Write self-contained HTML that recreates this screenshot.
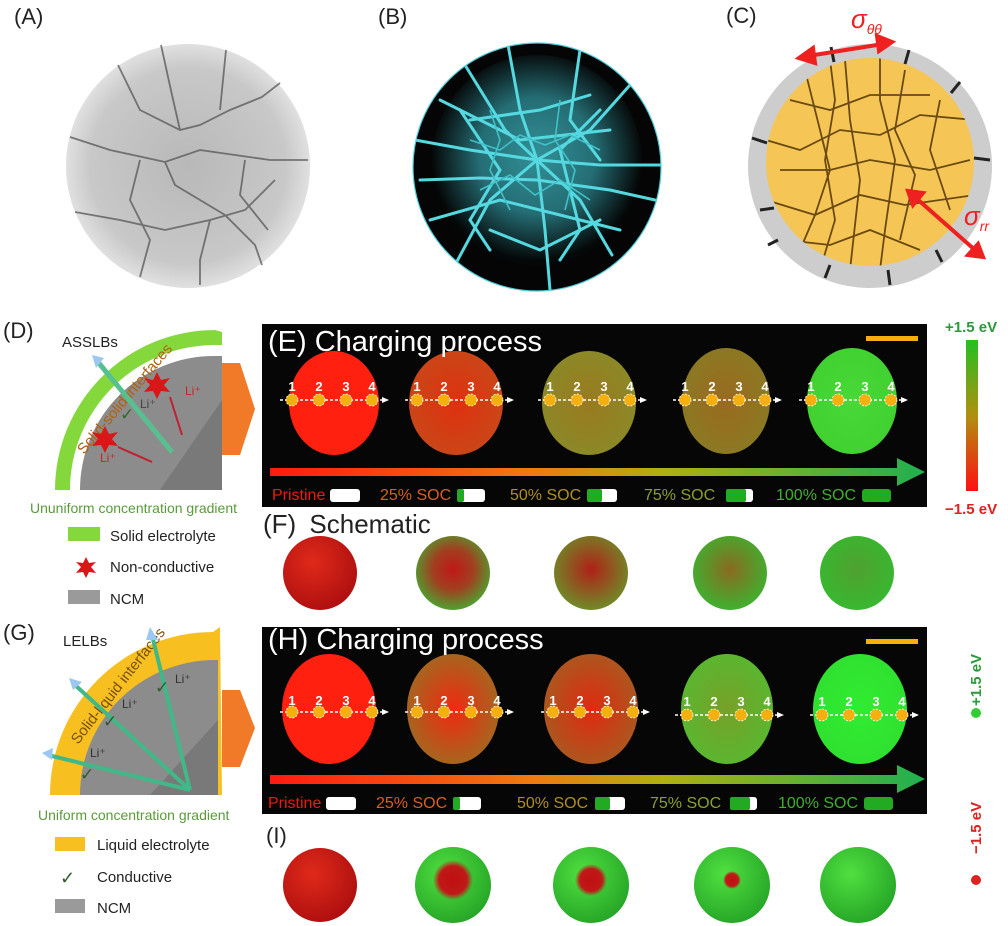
<!DOCTYPE html>
<html><head><meta charset="utf-8">
<style>
html,body{margin:0;padding:0;background:#fff;}
svg{display:block;font-family:"Liberation Sans",sans-serif;}
</style></head><body>
<svg width="1008" height="926" viewBox="0 0 1008 926" xmlns="http://www.w3.org/2000/svg">
<defs>
<radialGradient id="gA" cx="50%" cy="50%" r="50%"><stop offset="0" stop-color="#b8b8b8"/><stop offset="0.8" stop-color="#c8c8c8"/><stop offset="1" stop-color="#e0e0e0"/></radialGradient>
<radialGradient id="gB" cx="50%" cy="48%" r="50%"><stop offset="0" stop-color="#3aa8b0"/><stop offset="0.55" stop-color="#2a8088"/><stop offset="1" stop-color="#050808"/></radialGradient>
<linearGradient id="arr" x1="0" x2="1"><stop offset="0" stop-color="#ff1a10"/><stop offset="0.4" stop-color="#f07a10"/><stop offset="0.6" stop-color="#b0b010"/><stop offset="1" stop-color="#20b050"/></linearGradient>
<linearGradient id="cb" x1="0" y1="0" x2="0" y2="1"><stop offset="0" stop-color="#22c020"/><stop offset="0.5" stop-color="#b09010"/><stop offset="1" stop-color="#ff1010"/></linearGradient>
<radialGradient id="red" cx="40%" cy="35%" r="65%"><stop offset="0" stop-color="#e02a1a"/><stop offset="1" stop-color="#b01010"/></radialGradient>
<radialGradient id="grn" cx="40%" cy="35%" r="65%"><stop offset="0" stop-color="#50e040"/><stop offset="1" stop-color="#28a828"/></radialGradient>
<radialGradient id="mix1" cx="50%" cy="45%" r="55%"><stop offset="0" stop-color="#c01818"/><stop offset="0.5" stop-color="#a04020"/><stop offset="1" stop-color="#50a030"/></radialGradient>
<radialGradient id="mix2" cx="50%" cy="45%" r="55%"><stop offset="0" stop-color="#b02018"/><stop offset="1" stop-color="#708a28"/></radialGradient>
<radialGradient id="mix3" cx="50%" cy="45%" r="55%"><stop offset="0" stop-color="#8a6a20"/><stop offset="1" stop-color="#40b030"/></radialGradient>
<radialGradient id="mix4" cx="50%" cy="45%" r="55%"><stop offset="0" stop-color="#50a030"/><stop offset="1" stop-color="#38b830"/></radialGradient>
<radialGradient id="core" cx="50%" cy="50%" r="50%"><stop offset="0" stop-color="#c01010"/><stop offset="0.7" stop-color="#c01818"/><stop offset="1" stop-color="#c01818" stop-opacity="0"/></radialGradient>
<radialGradient id="b2" cx="50%" cy="50%" r="55%"><stop offset="0" stop-color="#e03010"/><stop offset="1" stop-color="#c84818"/></radialGradient>
<radialGradient id="b3" cx="50%" cy="50%" r="55%"><stop offset="0" stop-color="#9a7a20"/><stop offset="1" stop-color="#8a8a28"/></radialGradient>
<radialGradient id="b4" cx="50%" cy="50%" r="55%"><stop offset="0" stop-color="#9a6a20"/><stop offset="1" stop-color="#8a7a22"/></radialGradient>
<radialGradient id="b5" cx="50%" cy="50%" r="55%"><stop offset="0" stop-color="#48d838"/><stop offset="1" stop-color="#40d030"/></radialGradient>
<radialGradient id="h2" cx="50%" cy="50%" r="55%"><stop offset="0" stop-color="#f02a10"/><stop offset="1" stop-color="#a06a20"/></radialGradient>
<radialGradient id="h3" cx="50%" cy="50%" r="55%"><stop offset="0" stop-color="#e02a10"/><stop offset="1" stop-color="#a85a20"/></radialGradient>
<radialGradient id="h4" cx="50%" cy="50%" r="55%"><stop offset="0" stop-color="#78a028"/><stop offset="1" stop-color="#58b830"/></radialGradient>
<radialGradient id="h5" cx="50%" cy="50%" r="55%"><stop offset="0" stop-color="#30ec30"/><stop offset="1" stop-color="#30e030"/></radialGradient>
<clipPath id="cpB"><circle cx="537" cy="167" r="124"/></clipPath>
<clipPath id="cpC"><circle cx="870" cy="162" r="104"/></clipPath>
<g id="mk">
<path d="M-52 0 H50" stroke="#fff" stroke-width="1.5" stroke-dasharray="3,2"/>
<polygon points="50,-3 57,0 50,3" fill="#fff"/>
<g fill="#f5b010" stroke="#fff" stroke-width="0.8" stroke-dasharray="2,1.5">
<circle cx="-40" cy="0" r="6"/><circle cx="-13" cy="0" r="6"/><circle cx="14" cy="0" r="6"/><circle cx="40" cy="0" r="6"/></g>
</g>
</defs>

<!-- Top labels -->
<g font-size="22" fill="#222">
<text x="14" y="24">(A)</text><text x="378" y="24">(B)</text><text x="726" y="23">(C)</text>
</g>
<!-- A -->
<circle cx="188" cy="166" r="122" fill="url(#gA)"/>
<g stroke="#555" stroke-width="1.8" fill="none" opacity="0.75">
<path d="M118 65 L140 110 L180 130 L200 125 L230 110 L262 97 L280 83"/>
<path d="M161 45 L172 95 L180 130"/>
<path d="M226 50 L220 110"/>
<path d="M70 137 L110 150 L165 162 L200 150 L235 155 L270 160 L308 160"/>
<path d="M165 162 L175 185 L200 200 L225 215 L255 245 L262 265"/>
<path d="M75 212 L120 220 L165 230 L210 220 L245 210 L275 180"/>
<path d="M140 277 L150 240 L130 200 L140 160"/>
<path d="M200 285 L200 260 L210 220"/>
<path d="M245 160 L240 195 L268 230"/>
</g>
<!-- B -->
<circle cx="537" cy="167" r="124" fill="#050505"/>
<g clip-path="url(#cpB)">
<circle cx="537" cy="160" r="105" fill="url(#gB)" opacity="0.85"/>
<g stroke="#55d8e0" stroke-width="3" fill="none" stroke-linecap="round">
<path d="M465 65 L505 130 L537 160 L580 200 L612 255"/>
<path d="M508 45 L520 110 L537 160 L545 230 L550 290"/>
<path d="M630 85 L590 130 L537 160 L490 200 L455 265"/>
<path d="M415 140 L470 150 L537 160 L600 165 L660 165"/>
<path d="M420 180 L480 178 L537 180 L610 190 L655 200"/>
<path d="M580 50 L570 120 L600 160"/>
<path d="M460 110 L500 170 L470 220 L490 250"/>
<path d="M600 110 L560 150 L580 230 L560 260"/>
<path d="M430 220 L500 200 L560 215 L620 230"/>
<path d="M440 100 L520 140 L610 130"/>
<path d="M470 120 L540 110 L590 95"/>
<path d="M490 230 L540 250 L600 220"/>
</g>
<g stroke="#40c0c8" stroke-width="1.6" fill="none">
<path d="M470 140 L500 150 L520 135 L545 145 L570 135 L600 150"/>
<path d="M480 190 L510 175 L535 195 L560 180 L590 200"/>
<path d="M490 110 L500 140 L490 170 L510 210"/>
<path d="M560 100 L555 140 L575 170 L565 210"/>
</g>
</g>
<circle cx="537" cy="167" r="124" fill="none" stroke="#4ecfdc" stroke-width="1.2"/>
<!-- C -->
<circle cx="870" cy="166" r="122" fill="#cdcdcd"/>
<circle cx="870" cy="162" r="104" fill="#f5c556"/>
<g clip-path="url(#cpC)" stroke="#6b4a10" stroke-width="1.8" fill="none">
<path d="M766 140 L800 150 L840 130 L880 135 L920 115 L975 120"/><path d="M805 70 L820 130 L830 170 L815 215 L800 250"/><path d="M905 70 L895 130 L915 175 L900 240"/><path d="M766 200 L815 215 L860 195 L905 205 L975 195"/><path d="M845 60 L850 120 L860 180 L850 270"/>
<path d="M780 170 L830 170 L870 160 L930 170 L970 160"/><path d="M785 240 L830 245 L870 230 L920 250"/><path d="M830 60 L835 100 L825 160 L835 220 L820 270"/><path d="M880 55 L880 100 L895 160 L885 230 L880 270"/>
<path d="M790 100 L830 110 L870 95 L930 95"/><path d="M940 100 L930 150 L950 210"/>
</g>
<g stroke="#222" stroke-width="3"><path d="M752 138 L767 143"/><path d="M831 47 L834 62"/><path d="M909 50 L905 64"/><path d="M960 82 L951 93"/><path d="M990 160 L974 158"/><path d="M760 210 L774 208"/><path d="M825 278 L830 265"/><path d="M890 285 L888 270"/><path d="M942 262 L936 250"/><path d="M768 245 L778 240"/></g>
<g stroke="#ee2020" stroke-width="4" fill="#ee2020">
<path d="M808 56 L883 44"/><polygon points="799,58 813,48 815,63"/><polygon points="892,42 877,36 879,51"/>
<path d="M916 198 L975 250"/><polygon points="908,191 923,193 913,205"/><polygon points="983,257 968,255 978,244"/>
</g>
<text x="851" y="28" font-size="26" font-style="italic" fill="#ee2020">σ<tspan font-size="14" dy="6">θθ</tspan></text>
<text x="964" y="225" font-size="26" font-style="italic" fill="#ee2020">σ<tspan font-size="14" dy="6">rr</tspan></text>

<!-- D -->
<text x="3" y="338" font-size="22" fill="#222">(D)</text>
<path d="M55 490 A160 160 0 0 1 215 330 L222 332 L222 352 L222 490 Z" fill="#84d83c"/>
<path d="M70 490 A145 145 0 0 1 215 345 L222 345 L222 490 Z" fill="#fff"/>
<path d="M80 490 A134 134 0 0 1 215 356 L222 356 L222 490 Z" fill="#8c8c8c"/>
<path d="M160 490 L222 400 L222 490 Z" fill="#666" opacity="0.5"/>
<text x="62" y="347" font-size="15" fill="#222">ASSLBs</text>
<text x="0" y="0" font-size="15" fill="#b06010" transform="translate(84 455) rotate(-50)">Solid-solid interfaces</text>
<path d="M172 452 L98 362" stroke="#58c090" stroke-width="5"/><polygon points="92,355 104,358 96,368" fill="#9ac8f0"/>
<path d="M182 435 L170 397" stroke="#c02030" stroke-width="2"/><path d="M152 462 L118 447" stroke="#c02030" stroke-width="2"/>
<text x="140" y="408" font-size="12" fill="#444">Li⁺</text><text x="185" y="395" font-size="12" fill="#d02020">Li⁺</text><text x="100" y="462" font-size="12" fill="#d02020">Li⁺</text>
<text x="120" y="420" font-size="17" fill="#2e6a2e">✓</text>
<polygon points="157,372 161,380 170,378 164,385 170,392 161,391 157,399 153,391 144,392 150,385 144,378 153,380" fill="#d81818"/>
<polygon points="105,426 109,434 118,432 112,439 118,446 109,445 105,453 101,445 92,446 98,439 92,432 101,434" fill="#d81818"/>
<polygon points="222,363 240,363 255,409 240,455 222,455" fill="#f07a28"/>
<text x="30" y="513" font-size="14" fill="#5a9a3a">Ununiform concentration gradient</text>
<rect x="68" y="527" width="32" height="14" fill="#84d83c"/><text x="110" y="541" font-size="15" fill="#222">Solid electrolyte</text>
<polygon points="86,557 89,563 96,562 91,567 96,573 89,572 86,578 83,572 76,573 81,567 76,562 83,563" fill="#d81818"/><text x="110" y="572" font-size="15" fill="#222">Non-conductive</text>
<rect x="68" y="590" width="32" height="14" fill="#9a9a9a"/><text x="110" y="604" font-size="15" fill="#222">NCM</text>

<!-- E panel -->
<rect x="262" y="324" width="665" height="183" fill="#060606"/>
<ellipse cx="334" cy="403" rx="45" ry="52" fill="#ff2010"/>
<ellipse cx="456" cy="403" rx="47" ry="52" fill="url(#b2)"/>
<ellipse cx="589" cy="403" rx="47" ry="52" fill="url(#b3)"/>
<ellipse cx="726" cy="401" rx="44" ry="53" fill="url(#b4)"/>
<ellipse cx="852" cy="401" rx="45" ry="53" fill="url(#b5)"/>
<text x="268" y="351" font-size="29" fill="#fff">(E) Charging process</text>
<rect x="866" y="336" width="52" height="5" fill="#f5b010"/>
<use href="#mk" x="332" y="400"/><use href="#mk" x="457" y="400"/><use href="#mk" x="590" y="400"/><use href="#mk" x="725" y="400"/><use href="#mk" x="851" y="400"/>
<g font-size="13" fill="#fff" font-weight="bold" text-anchor="middle">
<text x="292" y="391">1</text><text x="319" y="391">2</text><text x="346" y="391">3</text><text x="372" y="391">4</text>
<text x="417" y="391">1</text><text x="444" y="391">2</text><text x="471" y="391">3</text><text x="497" y="391">4</text>
<text x="550" y="391">1</text><text x="577" y="391">2</text><text x="604" y="391">3</text><text x="630" y="391">4</text>
<text x="685" y="391">1</text><text x="712" y="391">2</text><text x="739" y="391">3</text><text x="765" y="391">4</text>
<text x="811" y="391">1</text><text x="838" y="391">2</text><text x="865" y="391">3</text><text x="891" y="391">4</text>
</g>
<path d="M270 468 L897 468 L897 458 L925 472 L897 486 L897 476 L270 476 Z" fill="url(#arr)"/>
<g font-size="16">
<text x="272" y="500" fill="#ee1a10">Pristine</text><rect x="330" y="489" width="30" height="13" rx="3" fill="#fff"/>
<text x="380" y="500" fill="#d86020">25% SOC</text><rect x="457" y="489" width="28" height="13" rx="3" fill="#fff"/><rect x="457" y="489" width="7" height="13" rx="2" fill="#2a2"/>
<text x="510" y="500" fill="#b09020">50% SOC</text><rect x="587" y="489" width="30" height="13" rx="3" fill="#fff"/><rect x="587" y="489" width="15" height="13" rx="2" fill="#2a2"/>
<text x="644" y="500" fill="#8aa030">75% SOC</text><rect x="726" y="489" width="27" height="13" rx="3" fill="#fff"/><rect x="726" y="489" width="20" height="13" rx="2" fill="#2a2"/>
<text x="776" y="500" fill="#40b030">100% SOC</text><rect x="862" y="489" width="29" height="13" rx="3" fill="#2a2"/>
</g>
<!-- colorbar E -->
<text x="945" y="332" font-size="15" font-weight="bold" fill="#2a9a3a">+1.5 eV</text>
<rect x="966" y="340" width="12" height="151" fill="url(#cb)"/>
<text x="945" y="514" font-size="15" font-weight="bold" fill="#e02020">−1.5 eV</text>

<!-- F -->
<text x="263" y="533" font-size="26" fill="#222">(F) <tspan dx="6">Schematic</tspan></text>
<circle cx="320" cy="573" r="37" fill="url(#red)"/>
<circle cx="453" cy="573" r="37" fill="url(#mix1)"/>
<circle cx="591" cy="573" r="37" fill="url(#mix2)"/>
<circle cx="730" cy="573" r="37" fill="url(#mix3)"/>
<circle cx="857" cy="573" r="37" fill="url(#mix4)"/>

<!-- G -->
<text x="3" y="640" font-size="22" fill="#222">(G)</text>
<path d="M50 795 A163 163 0 0 1 213 632 L220 627 L222 795 Z" fill="#f7c020"/>
<path d="M80 795 A135 135 0 0 1 215 660 L218 660 L218 795 Z" fill="#8c8c8c"/>
<path d="M150 795 L218 720 L218 795 Z" fill="#666" opacity="0.5"/>
<text x="63" y="646" font-size="15" fill="#222">LELBs</text>
<text x="0" y="0" font-size="15" fill="#7a5010" transform="translate(78 745) rotate(-52)">Solid-liquid interfaces</text>
<g stroke="#40b888" stroke-width="4"><path d="M190 790 L152 635"/><path d="M190 790 L75 685"/><path d="M190 790 L48 755"/></g>
<g fill="#9ac8f0"><polygon points="150,627 158,640 146,640"/><polygon points="69,678 82,682 73,690"/><polygon points="42,753 53,748 52,760"/></g>
<g font-size="12" fill="#333"><text x="175" y="683">Li⁺</text><text x="122" y="708">Li⁺</text><text x="90" y="757">Li⁺</text></g>
<g font-size="17" fill="#2e5a2e"><text x="155" y="693">✓</text><text x="103" y="727">✓</text><text x="80" y="780">✓</text></g>
<polygon points="222,690 240,690 255,728 240,767 222,767" fill="#f07a28"/>
<text x="38" y="820" font-size="14" fill="#5a9a3a">Uniform concentration gradient</text>
<rect x="55" y="837" width="30" height="14" fill="#f7c020"/><text x="97" y="850" font-size="15" fill="#222">Liquid electrolyte</text>
<text x="60" y="884" font-size="18" fill="#2e5a2e">✓</text><text x="97" y="882" font-size="15" fill="#222">Conductive</text>
<rect x="55" y="899" width="30" height="14" fill="#9a9a9a"/><text x="97" y="913" font-size="15" fill="#222">NCM</text>

<!-- H panel -->
<rect x="262" y="627" width="665" height="187" fill="#060606"/>
<ellipse cx="329" cy="709" rx="47" ry="55" fill="#ff2010"/>
<ellipse cx="453" cy="709" rx="46" ry="55" fill="url(#h2)"/>
<ellipse cx="591" cy="709" rx="47" ry="55" fill="url(#h3)"/>
<ellipse cx="727" cy="709" rx="46" ry="55" fill="url(#h4)"/>
<ellipse cx="860" cy="709" rx="47" ry="55" fill="url(#h5)"/>
<text x="268" y="649" font-size="29" fill="#fff">(H) Charging process</text>
<rect x="866" y="639" width="52" height="5" fill="#f5b010"/>
<use href="#mk" x="332" y="712"/><use href="#mk" x="457" y="712"/><use href="#mk" x="593" y="712"/><use href="#mk" x="727" y="715"/><use href="#mk" x="862" y="715"/>
<g font-size="13" fill="#fff" font-weight="bold" text-anchor="middle">
<text x="292" y="705">1</text><text x="319" y="705">2</text><text x="346" y="705">3</text><text x="372" y="705">4</text>
<text x="417" y="705">1</text><text x="444" y="705">2</text><text x="471" y="705">3</text><text x="497" y="705">4</text>
<text x="553" y="705">1</text><text x="580" y="705">2</text><text x="607" y="705">3</text><text x="633" y="705">4</text>
<text x="687" y="706">1</text><text x="714" y="706">2</text><text x="741" y="706">3</text><text x="767" y="706">4</text>
<text x="822" y="706">1</text><text x="849" y="706">2</text><text x="876" y="706">3</text><text x="902" y="706">4</text>
</g>
<path d="M270 775 L897 775 L897 765 L925 779 L897 793 L897 784 L270 784 Z" fill="url(#arr)"/>
<g font-size="16">
<text x="268" y="808" fill="#ee1a10">Pristine</text><rect x="326" y="797" width="30" height="13" rx="3" fill="#fff"/>
<text x="376" y="808" fill="#d86020">25% SOC</text><rect x="453" y="797" width="28" height="13" rx="3" fill="#fff"/><rect x="453" y="797" width="7" height="13" rx="2" fill="#2a2"/>
<text x="517" y="808" fill="#b09020">50% SOC</text><rect x="595" y="797" width="30" height="13" rx="3" fill="#fff"/><rect x="595" y="797" width="15" height="13" rx="2" fill="#2a2"/>
<text x="650" y="808" fill="#8aa030">75% SOC</text><rect x="730" y="797" width="27" height="13" rx="3" fill="#fff"/><rect x="730" y="797" width="20" height="13" rx="2" fill="#2a2"/>
<text x="778" y="808" fill="#40b030">100% SOC</text><rect x="864" y="797" width="29" height="13" rx="3" fill="#2a2"/>
</g>
<!-- right legend H -->
<text x="0" y="0" font-size="15" font-weight="bold" fill="#2a9a3a" transform="translate(981 706) rotate(-90)">+1.5 eV</text>
<circle cx="976" cy="713" r="5" fill="#3c3"/>
<text x="0" y="0" font-size="15" font-weight="bold" fill="#e02020" transform="translate(981 854) rotate(-90)">−1.5 eV</text>
<circle cx="976" cy="880" r="5" fill="#d22"/>

<!-- I -->
<text x="266" y="843" font-size="22" fill="#222">(I)</text>
<circle cx="320" cy="885" r="37" fill="url(#red)"/>
<circle cx="453" cy="885" r="38" fill="url(#grn)"/><circle cx="453" cy="880" r="20" fill="url(#core)"/>
<circle cx="591" cy="885" r="38" fill="url(#grn)"/><circle cx="591" cy="880" r="16" fill="url(#core)"/>
<circle cx="732" cy="885" r="38" fill="url(#grn)"/><circle cx="732" cy="880" r="9" fill="url(#core)"/>
<circle cx="858" cy="885" r="38" fill="url(#grn)"/>
</svg>
</body></html>
